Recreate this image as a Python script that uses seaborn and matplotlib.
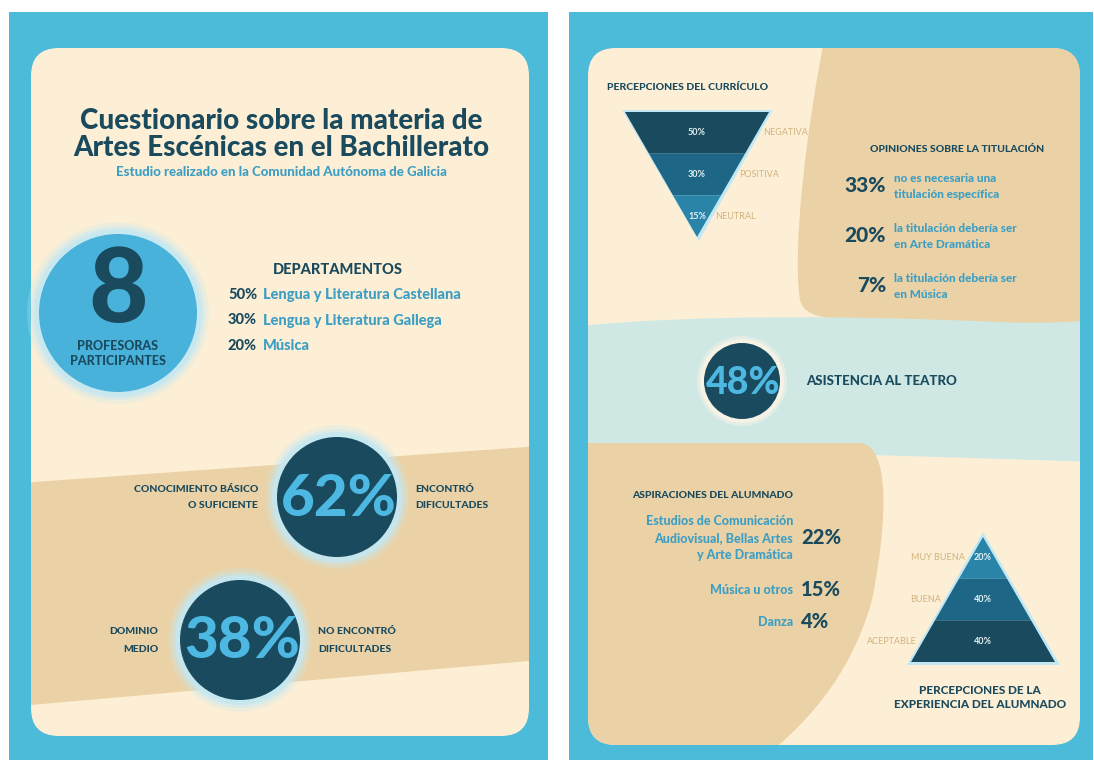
import numpy as np
import matplotlib
matplotlib.use("Agg")
import matplotlib.pyplot as plt
import seaborn as sns
from matplotlib.patches import FancyBboxPatch, Circle, Polygon, PathPatch
from matplotlib.path import Path

sns.set_theme(style="white")
plt.rcParams["font.family"] = ["Lato", "DejaVu Sans"]

# ---- data -------------------------------------------------------------
titulo = ["Cuestionario sobre la materia de", "Artes Escénicas en el Bachillerato"]
subtitulo = "Estudio realizado en la Comunidad Autónoma de Galicia"

n_profesoras = 8
dept_pct = [50, 30, 20]
dept_names = ["Lengua y Literatura Castellana", "Lengua y Literatura Gallega", "Música"]

dificultad_pct = [62, 38]
dificultad_izq = [["CONOCIMIENTO BÁSICO", "O SUFICIENTE"], ["DOMINIO", "MEDIO"]]
dificultad_der = [["ENCONTRÓ", "DIFICULTADES"], ["NO ENCONTRÓ", "DIFICULTADES"]]

curriculo_cats = ["NEGATIVA", "POSITIVA", "NEUTRAL"]
curriculo_pct = [50, 30, 15]

titulacion_pct = [33, 20, 7]
titulacion_txt = [["no es necesaria una", "titulación específica"],
                  ["la titulación debería ser", "en Arte Dramática"],
                  ["la titulación debería ser", "en Música"]]

asistencia_pct = 48

aspiraciones_txt = [["Estudios de Comunicación", "Audiovisual, Bellas Artes", "y Arte Dramática"],
                    ["Música u otros"],
                    ["Danza"]]
aspiraciones_pct = [22, 15, 4]

experiencia_cats = ["MUY BUENA", "BUENA", "ACEPTABLE"]
experiencia_pct = [20, 40, 40]

# ---- colours ----------------------------------------------------------
BLUE_FRAME = "#4cbad9"
CREAM = "#fdefd5"
TAN = "#ebd2a6"
NAVY = "#1a4a5e"
TEXT_BLUE = "#3d9ec4"
LIGHT_BLUE = "#4db8e2"
AQUA = "#cfe8e4"
HALO = "#c4e8f3"
SIDE_LABEL = "#d2b27e"
SHADES = ["#1a4a5e", "#1e6685", "#2a84a8"]
HEAVY = 900

W, H = 1094, 769
fig = plt.figure(figsize=(W / 100, H / 100), dpi=100)
ax = fig.add_axes([0, 0, 1, 1])
ax.set_xlim(0, W)
ax.set_ylim(H, 0)
ax.set_aspect("equal")
ax.axis("off")
fig.patch.set_facecolor("white")


def rbox(x0, y0, x1, y1, r, color, z=1):
    p = FancyBboxPatch((x0, y0), x1 - x0, y1 - y0,
                       boxstyle=f"round,pad=0,rounding_size={r}",
                       facecolor=color, edgecolor="none", zorder=z)
    ax.add_patch(p)
    return p


def txt(x, y, s, size, color=NAVY, ha="left", weight="bold", z=10, **kw):
    ax.text(x, y, s, fontsize=size, color=color, ha=ha, va="center",
            fontweight=weight, zorder=z, **kw)


def curve(verts, codes, color, clip, z=2):
    p = PathPatch(Path(verts, codes), facecolor=color, edgecolor="none", zorder=z)
    ax.add_patch(p)
    p.set_clip_path(clip)
    return p


def glow_circle(cx, cy, r, face, halo, z=5):
    for k, a in zip([12, 8, 5], [0.25, 0.45, 0.8]):
        ax.add_patch(Circle((cx, cy), r + k, facecolor=halo, edgecolor="none",
                            alpha=a, zorder=z))
    ax.add_patch(Circle((cx, cy), r, facecolor=face, edgecolor="none", zorder=z + 1))


# ---- panels -------------------------------------------------------------
ax.add_patch(Polygon([(9, 12), (548, 12), (548, 760), (9, 760)],
                     facecolor=BLUE_FRAME, edgecolor="none", zorder=0))
ax.add_patch(Polygon([(569, 12), (1093, 12), (1093, 760), (569, 760)],
                     facecolor=BLUE_FRAME, edgecolor="none", zorder=0))

left = rbox(31, 48, 529, 736, 28, CREAM)
right = rbox(588, 48, 1080, 745, 28, CREAM)

# diagonal band on the left sheet
band = Polygon([(20, 483), (540, 446), (540, 660), (20, 706)],
               facecolor=TAN, edgecolor="none", zorder=2)
ax.add_patch(band)
band.set_clip_path(left)

# shapes on the right sheet
M, L, C = Path.MOVETO, Path.LINETO, Path.CURVE4
curve([(826, 30), (806, 130), (792, 250), (800, 300), (806, 322), (830, 326),
       (1100, 326), (1100, 30), (826, 30)],
      [M, C, C, C, C, C, C, L, L], TAN, right)
curve([(580, 326), (700, 314), (860, 316), (1000, 322), (1040, 324), (1070, 322),
       (1100, 320), (1100, 462), (580, 446), (580, 326)],
      [M, C, C, C, C, C, C, L, L, L], AQUA, right, z=2)
curve([(580, 443), (860, 443), (890, 445), (888, 520), (872, 600),
       (850, 680), (800, 730), (760, 760), (580, 760), (580, 443)],
      [M, L, C, C, C, C, C, C, L, L], TAN, right, z=3)

# ---- left sheet: title -----------------------------------------------
txt(281, 121, titulo[0], 20, ha="center", weight=HEAVY)
txt(281, 148, titulo[1], 20, ha="center", weight=HEAVY)
txt(281, 172, subtitulo, 9.5, color=TEXT_BLUE, ha="center", weight=HEAVY)

# teachers circle
glow_circle(118, 313, 79, "#49b2db", HALO)
txt(118, 292, str(n_profesoras), 74, ha="center", z=12, weight=HEAVY)
txt(118, 346, "PROFESORAS", 9, ha="center", z=12, weight=HEAVY)
txt(118, 361, "PARTICIPANTES", 9, ha="center", z=12, weight=HEAVY)

# departments
txt(338, 270, "DEPARTAMENTOS", 10.5, ha="center", weight=HEAVY)
for i, (p, name) in enumerate(zip(dept_pct, dept_names)):
    y = 295 + i * 25.5
    txt(228, y, f"{p}%", 10.5, weight=HEAVY)
    txt(263, y, name, 10.5, color=TEXT_BLUE, weight=HEAVY)

# difficulty circles
for (cx, cy), p, li, ld, xl, xr in zip([(337, 497), (240, 640)], dificultad_pct,
                                       dificultad_izq, dificultad_der,
                                       [258, 158], [415, 318]):
    glow_circle(cx, cy, 60, NAVY, HALO)
    txt(cx + 2, cy + 2, f"{p}%", 42, color=LIGHT_BLUE, ha="center", z=12, weight=HEAVY)
    txt(xl, cy - 8, li[0], 7.5, ha="right", weight=HEAVY)
    txt(xl, cy + 9, li[1], 7.5, ha="right", weight=HEAVY)
    txt(xr, cy - 8, ld[0], 7.5, weight=HEAVY)
    txt(xr, cy + 9, ld[1], 7.5, weight=HEAVY)

# ---- right sheet: curriculum funnel ------------------------------------
txt(607, 88, "PERCEPCIONES DEL CURRÍCULO", 7.5, weight=HEAVY)
ftop, fbot, fl, fr = 112, 237, 625, 769
fcx = (fl + fr) / 2
ax.add_patch(Polygon([(fl - 3, ftop - 2), (fr + 4, ftop - 2), (fcx + 2, fbot + 4)],
                     facecolor=HALO, edgecolor="none", zorder=4))
n = len(curriculo_pct)
for i, (cat, p) in enumerate(zip(curriculo_cats, curriculo_pct)):
    y0 = ftop + (fbot - ftop) * i / n
    y1 = ftop + (fbot - ftop) * (i + 1) / n
    h0 = (fr - fl) / 2 * (fbot - y0) / (fbot - ftop)
    h1 = (fr - fl) / 2 * (fbot - y1) / (fbot - ftop)
    ax.add_patch(Polygon([(fcx - h0, y0), (fcx + h0, y0), (fcx + h1, y1), (fcx - h1, y1)],
                         facecolor=SHADES[i], edgecolor="none", zorder=5))
    ym = (y0 + y1) / 2
    txt(fcx, ym, f"{p}%", 6.5, color="#e6f2f5", ha="center")
    hm = (fr - fl) / 2 * (fbot - ym) / (fbot - ftop)
    txt(fcx + hm + 6, ym, cat, 6.5, color=SIDE_LABEL, weight="normal")

# degree opinions
txt(957, 150, "OPINIONES SOBRE LA TITULACIÓN", 7.5, ha="center", weight=HEAVY)
for i, (p, lines) in enumerate(zip(titulacion_pct, titulacion_txt)):
    yc = 186 + i * 50
    txt(886, yc, f"{p}%", 15, ha="right", weight=HEAVY)
    txt(894, yc - 8, lines[0], 8.5, color=TEXT_BLUE, weight=HEAVY)
    txt(894, yc + 8, lines[1], 8.5, color=TEXT_BLUE, weight=HEAVY)

# theatre attendance
for k, a in zip([7, 4], [0.5, 1.0]):
    ax.add_patch(Circle((742, 381), 38 + k, facecolor="#f6f3e6", edgecolor="none",
                        alpha=a, zorder=5))
ax.add_patch(Circle((742, 381), 38, facecolor=NAVY, edgecolor="none", zorder=6))
txt(743, 383, f"{asistencia_pct}%", 27, color=LIGHT_BLUE, ha="center", z=12, weight=HEAVY)
txt(806, 381, "ASISTENCIA AL TEATRO", 9.5, weight=HEAVY)

# student aspirations
txt(713, 495, "ASPIRACIONES DEL ALUMNADO", 7.5, ha="center", weight=HEAVY)
asp_y = [[521, 538, 555], [590], [622]]
for ys, lines, p in zip(asp_y, aspiraciones_txt, aspiraciones_pct):
    for y, s in zip(ys, lines):
        txt(793, y, s, 9, color=TEXT_BLUE, ha="right", weight=HEAVY)
    txt(801, ys[len(ys) // 2], f"{p}%", 14.5, weight=HEAVY)

# experience pyramid
ptop, pbot, pl, pr = 537, 662, 911, 1055
pcx = (pl + pr) / 2
ax.add_patch(Polygon([(pcx, ptop - 5), (pr + 5, pbot + 3), (pl - 4, pbot + 3)],
                     facecolor=HALO, edgecolor="none", zorder=4))
n = len(experiencia_pct)
for i, (cat, p) in enumerate(zip(experiencia_cats, experiencia_pct)):
    y0 = ptop + (pbot - ptop) * i / n
    y1 = ptop + (pbot - ptop) * (i + 1) / n
    h0 = (pr - pl) / 2 * (y0 - ptop) / (pbot - ptop)
    h1 = (pr - pl) / 2 * (y1 - ptop) / (pbot - ptop)
    ax.add_patch(Polygon([(pcx - h0, y0), (pcx + h0, y0), (pcx + h1, y1), (pcx - h1, y1)],
                         facecolor=SHADES[::-1][i], edgecolor="none", zorder=5))
    ym = (y0 + y1) / 2
    txt(pcx, ym, f"{p}%", 6.5, color="#e6f2f5", ha="center")
    hm = (pr - pl) / 2 * (ym - ptop) / (pbot - ptop)
    txt(pcx - hm - 6, ym, cat, 6.5, color=SIDE_LABEL, ha="right", weight="normal")

txt(980, 690, "PERCEPCIONES DE LA", 8.5, ha="center", weight=HEAVY)
txt(980, 705, "EXPERIENCIA DEL ALUMNADO", 8.5, ha="center", weight=HEAVY)

fig.savefig("out.png", dpi=100, facecolor="white")
